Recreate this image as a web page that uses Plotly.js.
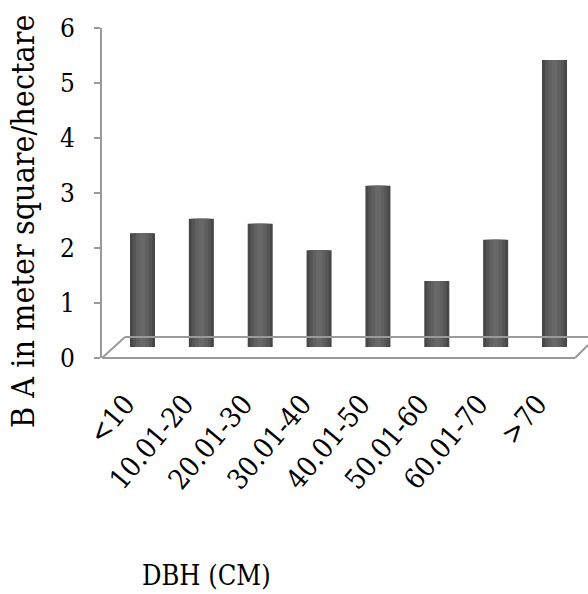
<!DOCTYPE html>
<html>
<head>
<meta charset="utf-8">
<script src="https://cdn.plot.ly/plotly-3.0.1.min.js"></script>
<style>html,body{margin:0;padding:0;background:#fff;}#chart{width:588px;height:594px;}</style>
</head>
<body>
<div id="chart"></div>
<script>
// DBH classes and basal area (m^2/ha)
const categories = ['<10', '10.01-20', '20.01-30', '30.01-40', '40.01-50', '50.01-60', '60.01-70', '>70'];
const baValues = [2.07, 2.33, 2.24, 1.76, 2.93, 1.2, 1.95, 5.22];
const yTickVals = [0, 1, 2, 3, 4, 5, 6];
const yTitle = 'B A in meter square/hectare';
const xTitle = 'DBH (CM)';

const serif = 'DejaVu Serif';
const serifC = 'DejaVu Serif Condensed';

// cylinder-like shading: overlaid bars of decreasing width
const shades = [
  {w: 0.425, c: '#474747'},
  {w: 0.33, c: '#555555'},
  {w: 0.22, c: '#606060'},
  {w: 0.1, c: '#686868'}
];
const traces = shades.map(s => ({
  type: 'bar',
  x: categories,
  y: baValues,
  width: s.w,
  yaxis: 'y2',
  marker: {color: s.c, line: {width: 0}},
  hoverinfo: 'skip',
  showlegend: false
}));
traces.unshift({type: 'scatter', x: [], y: [], xaxis: 'x', yaxis: 'y', mode: 'lines', showlegend: false, hoverinfo: 'skip'});

const lineC = '#9a9a9a';
const layout = {
  width: 588, height: 594,
  margin: {l: 102, r: 0, t: 28, b: 236},
  paper_bgcolor: '#fff', plot_bgcolor: '#fff',
  font: {family: serif},
  barmode: 'overlay',
  showlegend: false,
  xaxis: {
    type: 'category',
    categoryarray: categories,
    range: [-0.688, 7.569],
    showgrid: false, zeroline: false, showline: false,
    ticks: '',
    tickangle: -50,
    ticklabelstandoff: 23,
    ticklabelshift: -17,
    tickfont: {family: serifC, size: 28, color: '#000'}
  },
  yaxis: {
    range: [0, 6],
    tickvals: yTickVals,
    showgrid: false, zeroline: false,
    showline: true, linecolor: lineC, linewidth: 2,
    ticks: 'outside', ticklen: 6, tickcolor: lineC, tickwidth: 2,
    ticklabelstandoff: 14,
    tickfont: {family: serifC, size: 26, color: '#000'}
  },
  yaxis2: {
    overlaying: 'y',
    range: [-0.2, 5.8],
    visible: false
  },
  shapes: [
    {type: 'line', xref: 'paper', yref: 'paper', x0: 0, y0: 0, x1: 0.9733, y1: 0, line: {color: lineC, width: 2}},
    {type: 'line', xref: 'paper', yref: 'paper', x0: 0, y0: 0, x1: 0.0473, y1: 0.0636, line: {color: lineC, width: 2}},
    {type: 'line', xref: 'paper', yref: 'paper', x0: 0.0473, y0: 0.0636, x1: 1.0, y1: 0.0636, line: {color: lineC, width: 2}},
    {type: 'line', xref: 'paper', yref: 'paper', x0: 0.9733, y0: 0, x1: 1.0, y1: 0.0394, line: {color: lineC, width: 2}}
  ],
  annotations: [
    {text: yTitle, xref: 'paper', yref: 'paper', x: -0.1626, y: 0.415, textangle: -90,
     showarrow: false, xanchor: 'center', yanchor: 'middle',
     font: {family: serifC, size: 32, color: '#000'}},
    {text: xTitle, xref: 'paper', yref: 'paper', x: 0.216, y: -0.66,
     showarrow: false, xanchor: 'center', yanchor: 'middle',
     font: {family: serifC, size: 27, color: '#000'}}
  ]
};

Plotly.newPlot('chart', traces, layout, {staticPlot: true, displayModeBar: false});
</script>
</body>
</html>
